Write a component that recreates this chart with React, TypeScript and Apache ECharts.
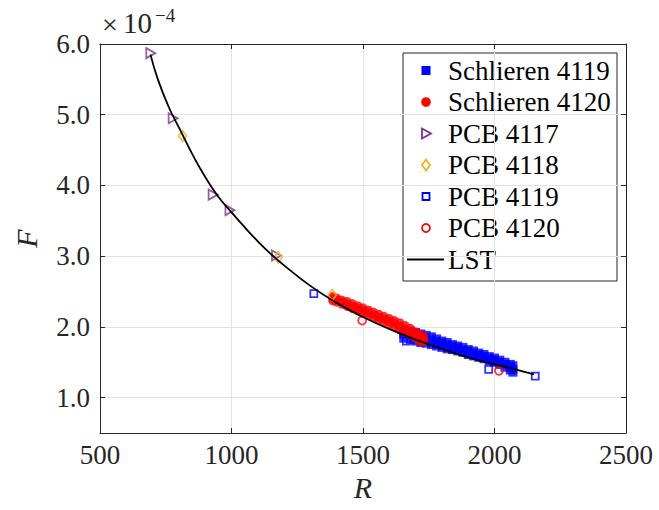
import React, { useEffect, useRef } from 'react';
import * as echarts from 'echarts';

// ---- data (F in units of 1e-4) ----
const xTickValues = [500, 1000, 1500, 2000, 2500];
const yTickValues = [1, 2, 3, 4, 5, 6];

const schlieren4119: [number, number][] = [
  [1655, 1.96], [1655, 1.90], [1655, 1.84],
  [1680, 1.94], [1680, 1.88], [1680, 1.82],
  [1700, 1.92], [1700, 1.86], [1700, 1.80],
  [1720, 1.90], [1720, 1.84], [1720, 1.78],
  [1740, 1.88], [1740, 1.83], [1740, 1.77],
  [1760, 1.86], [1760, 1.81], [1760, 1.75],
  [1780, 1.83], [1780, 1.79], [1780, 1.73],
  [1800, 1.80], [1800, 1.77], [1800, 1.71],
  [1820, 1.78], [1820, 1.74], [1820, 1.69],
  [1840, 1.75], [1840, 1.72], [1840, 1.68],
  [1860, 1.73], [1860, 1.70], [1860, 1.66],
  [1880, 1.71], [1880, 1.67], [1880, 1.64],
  [1900, 1.68], [1900, 1.65], [1900, 1.61],
  [1920, 1.66], [1920, 1.62], [1920, 1.59],
  [1940, 1.63], [1940, 1.60], [1940, 1.57],
  [1960, 1.61], [1960, 1.58], [1960, 1.55],
  [1980, 1.58], [1980, 1.55], [1980, 1.52],
  [2000, 1.56], [2000, 1.53], [2000, 1.50],
  [2020, 1.53], [2020, 1.50], [2020, 1.47],
  [2040, 1.50], [2040, 1.47], [2040, 1.43],
  [2060, 1.47], [2060, 1.43], [2060, 1.39],
  [2070, 1.45], [2070, 1.40], [2070, 1.36],
];

const schlieren4120: [number, number][] = [
  [1385, 2.43], [1385, 2.40], [1385, 2.37],
  [1400, 2.41], [1400, 2.38], [1400, 2.35],
  [1420, 2.38], [1420, 2.35], [1420, 2.32],
  [1440, 2.36], [1440, 2.32], [1440, 2.29],
  [1460, 2.33], [1460, 2.29], [1460, 2.26],
  [1480, 2.30], [1480, 2.26], [1480, 2.23],
  [1500, 2.27], [1500, 2.23], [1500, 2.20],
  [1520, 2.24], [1520, 2.20], [1520, 2.17],
  [1540, 2.21], [1540, 2.17], [1540, 2.13],
  [1560, 2.18], [1560, 2.14], [1560, 2.10],
  [1580, 2.15], [1580, 2.11], [1580, 2.07],
  [1600, 2.12], [1600, 2.08], [1600, 2.04],
  [1620, 2.09], [1620, 2.05], [1620, 2.00],
  [1640, 2.06], [1640, 2.01], [1640, 1.96],
  [1660, 2.02], [1660, 1.97], [1660, 1.92],
  [1680, 1.98], [1680, 1.93], [1680, 1.88],
  [1700, 1.93], [1700, 1.89], [1700, 1.84],
  [1715, 1.90], [1715, 1.86], [1715, 1.80],
  [1730, 1.87], [1730, 1.83], [1730, 1.79],
];

const pcb4117: [number, number][] = [[693, 5.87], [778, 4.95], [930, 3.87], [994, 3.65], [1171, 3.01]];
const pcb4118: [number, number][] = [[814, 4.70], [1177, 2.98], [1383, 2.45]];
const pcb4119: [number, number][] = [[1313, 2.47], [1665, 1.80], [1978, 1.40], [2155, 1.305]];
const pcb4120: [number, number][] = [[1497, 2.09], [1725, 1.80], [2017, 1.38]];

const lst: [number, number][] = [
  [692, 5.85], [720, 5.50], [760, 5.12], [800, 4.82], [850, 4.45], [900, 4.12],
  [950, 3.84], [1000, 3.62], [1050, 3.41], [1100, 3.21], [1150, 3.03], [1200, 2.87],
  [1300, 2.58], [1400, 2.34], [1500, 2.14], [1600, 1.97], [1700, 1.82], [1800, 1.69],
  [1900, 1.57], [2000, 1.47], [2100, 1.38], [2150, 1.33],
];

const legendNames = ['Schlieren 4119', 'Schlieren 4120', 'PCB 4117', 'PCB 4118', 'PCB 4119', 'PCB 4120', 'LST'];

const FONT = '"Liberation Serif", "Times New Roman", serif';
const INK = '#262626';
const BLUE = '#0000ff';
const RED = '#ff0000';
const PURPLE = '#7e2f8e';
const ORANGE = '#edb120';

export default function App() {
  const ref = useRef<HTMLDivElement>(null);

  useEffect(() => {
    if (!ref.current) return;
    const chart = echarts.init(ref.current, undefined, { renderer: 'svg' });

    const rowY0 = 70.5;
    const rowStep = 31.5;
    const mx = 426;
    const legendChildren: any[] = [
      {
        type: 'rect',
        shape: { x: 403, y: 53, width: 214, height: 228 },
        style: { fill: '#ffffff', stroke: INK, lineWidth: 1 },
      },
    ];
    legendNames.forEach((name, i) => {
      const y = rowY0 + i * rowStep;
      if (i === 0) {
        legendChildren.push({ type: 'rect', shape: { x: mx - 4.5, y: y - 4.5, width: 9, height: 9 }, style: { fill: BLUE } });
      } else if (i === 1) {
        legendChildren.push({ type: 'circle', shape: { cx: mx, cy: y, r: 4.8 }, style: { fill: RED } });
      } else if (i === 2) {
        legendChildren.push({
          type: 'polygon',
          shape: { points: [[mx - 4, y - 5], [mx + 5, y], [mx - 4, y + 5]] },
          style: { fill: 'none', stroke: PURPLE, lineWidth: 1.8 },
        });
      } else if (i === 3) {
        legendChildren.push({
          type: 'polygon',
          shape: { points: [[mx, y - 5.5], [mx + 4, y], [mx, y + 5.5], [mx - 4, y]] },
          style: { fill: 'none', stroke: ORANGE, lineWidth: 1.8 },
        });
      } else if (i === 4) {
        legendChildren.push({
          type: 'rect',
          shape: { x: mx - 3.5, y: y - 3.5, width: 7, height: 7 },
          style: { fill: 'none', stroke: BLUE, lineWidth: 1.8 },
        });
      } else if (i === 5) {
        legendChildren.push({
          type: 'circle',
          shape: { cx: mx, cy: y, r: 4 },
          style: { fill: 'none', stroke: RED, lineWidth: 1.8 },
        });
      } else {
        legendChildren.push({
          type: 'line',
          shape: { x1: 407, y1: y, x2: 444, y2: y },
          style: { stroke: '#000', lineWidth: 1.8 },
        });
      }
      legendChildren.push({
        type: 'text',
        x: 448,
        y: y,
        style: { text: name, fill: '#000', font: `27px ${FONT}`, verticalAlign: 'middle', align: 'left' },
      });
    });

    const hollow = (color: string) => ({ color: 'rgba(0,0,0,0)', borderColor: color, borderWidth: 1.8 });

    chart.setOption({
      animation: false,
      backgroundColor: '#ffffff',
      textStyle: { fontFamily: FONT },
      grid: { left: 100, top: 44, width: 526, height: 389, containLabel: false },
      xAxis: [
        {
          type: 'value',
          min: 500,
          max: 2500,
          interval: 500,
          name: 'R',
          nameLocation: 'middle',
          nameGap: 35,
          nameTextStyle: { fontFamily: FONT, fontSize: 30, fontStyle: 'italic', color: INK },
          axisLine: { show: true, onZero: false, lineStyle: { color: INK, width: 1 } },
          axisTick: { show: true, inside: true, length: 5, lineStyle: { color: INK } },
          axisLabel: {
            show: true,
            margin: 8,
            fontFamily: FONT,
            fontSize: 27,
            color: INK,
            customValues: xTickValues,
            formatter: (v: number) => String(v),
          },
          splitLine: { show: true, lineStyle: { color: '#e3e3e3', width: 1 } },
        },
        {
          type: 'value',
          position: 'top',
          min: 500,
          max: 2500,
          interval: 500,
          axisLine: { show: true, onZero: false, lineStyle: { color: INK, width: 1 } },
          axisTick: { show: true, inside: true, length: 5, lineStyle: { color: INK } },
          axisLabel: { show: false },
          splitLine: { show: false },
        },
      ],
      yAxis: [
        {
          type: 'value',
          min: 0.5,
          max: 6,
          minInterval: 1,
          maxInterval: 1,
          name: 'F',
          nameLocation: 'middle',
          nameGap: 59,
          nameRotate: 90,
          nameTextStyle: { fontFamily: FONT, fontSize: 30, fontStyle: 'italic', color: INK },
          axisLine: { show: true, onZero: false, lineStyle: { color: INK, width: 1 } },
          axisTick: { show: true, inside: true, length: 5, lineStyle: { color: INK }, customValues: yTickValues },
          axisLabel: {
            show: true,
            margin: 10,
            fontFamily: FONT,
            fontSize: 27,
            color: INK,
            customValues: yTickValues,
            formatter: (v: number) => v.toFixed(1),
          },
          splitLine: { show: true, lineStyle: { color: '#e3e3e3', width: 1 } },
        },
        {
          type: 'value',
          position: 'right',
          min: 0.5,
          max: 6,
          minInterval: 1,
          maxInterval: 1,
          axisLine: { show: true, onZero: false, lineStyle: { color: INK, width: 1 } },
          axisTick: { show: true, inside: true, length: 5, lineStyle: { color: INK }, customValues: yTickValues },
          axisLabel: { show: false },
          splitLine: { show: false },
        },
      ],
      graphic: [
        {
          type: 'group',
          z: 100,
          children: [
            {
              type: 'text',
              x: 102,
              y: 24,
              style: { text: '×', fill: INK, font: `28px ${FONT}`, verticalAlign: 'middle', align: 'left' },
            },
            {
              type: 'text',
              x: 123,
              y: 23,
              style: { text: '10', fill: INK, font: `29px ${FONT}`, verticalAlign: 'middle', align: 'left' },
            },
            {
              type: 'text',
              x: 155,
              y: 15,
              style: { text: '−4', fill: INK, font: `19px ${FONT}`, verticalAlign: 'middle', align: 'left' },
            },
            ...legendChildren,
          ],
        },
      ],
      series: [
        {
          name: 'Schlieren 4119',
          type: 'scatter',
          data: schlieren4119,
          symbol: 'rect',
          symbolSize: 9,
          itemStyle: { color: BLUE },
        },
        {
          name: 'Schlieren 4120',
          type: 'scatter',
          data: schlieren4120,
          symbol: 'circle',
          symbolSize: 9,
          itemStyle: { color: RED },
        },
        {
          name: 'PCB 4117',
          type: 'scatter',
          data: pcb4117,
          symbol: 'path://M0,0L10,5L0,10Z',
          symbolSize: [9, 10],
          itemStyle: hollow(PURPLE),
        },
        {
          name: 'PCB 4118',
          type: 'scatter',
          data: pcb4118,
          symbol: 'diamond',
          symbolSize: [8, 11],
          itemStyle: hollow(ORANGE),
        },
        {
          name: 'PCB 4119',
          type: 'scatter',
          data: pcb4119,
          symbol: 'rect',
          symbolSize: 7,
          itemStyle: hollow(BLUE),
        },
        {
          name: 'PCB 4120',
          type: 'scatter',
          data: pcb4120,
          symbol: 'circle',
          symbolSize: 8,
          itemStyle: hollow(RED),
        },
        {
          name: 'LST',
          type: 'line',
          data: lst,
          smooth: true,
          showSymbol: false,
          symbol: 'none',
          lineStyle: { color: '#000', width: 1.8 },
        },
      ],
    });

    return () => chart.dispose();
  }, []);

  return <div ref={ref} style={{ width: 659, height: 510, position: 'absolute', left: 0, top: 0 }} />;
}
